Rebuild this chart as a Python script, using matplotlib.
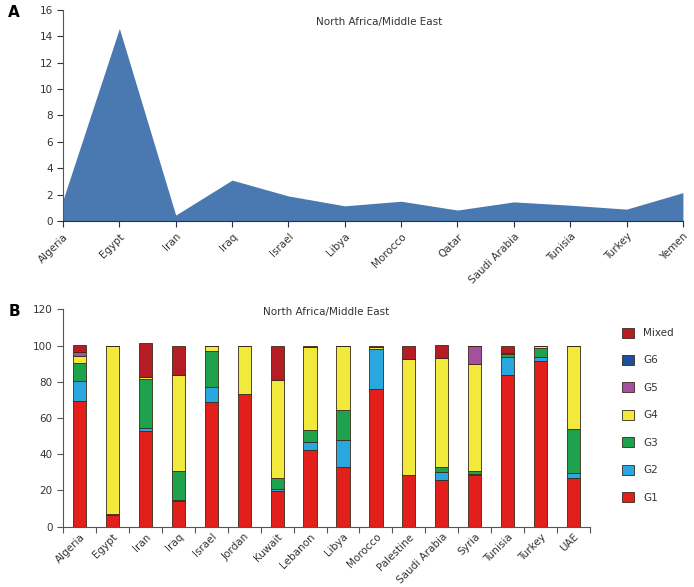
import numpy as np
import matplotlib.pyplot as plt

# Panel A data
countries_a = ["Algeria", "Egypt", "Iran", "Iraq", "Israel", "Libya", "Morocco",
               "Qatar", "Saudi Arabia", "Tunisia", "Turkey", "Yemen"]
values_a = [1.6, 14.6, 0.45, 3.1, 1.9, 1.15, 1.5, 0.83, 1.45, 1.2, 0.9, 2.15]

# Panel B data (percent by genotype)
countries_b = ["Algeria", "Egypt", "Iran", "Iraq", "Israel", "Jordan", "Kuwait",
               "Lebanon", "Libya", "Morocco", "Palestine", "Saudi Arabia",
               "Syria", "Tunisia", "Turkey", "UAE"]
g1 = [69.2, 6.2, 53.0, 14.4, 68.6, 73.2, 19.6, 42.4, 32.8, 76.2, 28.6, 25.8, 28.6, 84.0, 91.7, 26.8]
g2 = [11.0, 0.0, 1.4, 0.4, 8.5, 0.0, 1.0, 4.6, 14.8, 22.0, 0.0, 4.2, 0.5, 9.7, 2.0, 3.1]
g3 = [10.2, 1.0, 27.0, 16.2, 19.9, 0.0, 6.2, 6.3, 16.6, 0.0, 0.0, 3.2, 1.9, 1.5, 4.8, 24.0]
g4 = [4.1, 92.8, 1.5, 53.0, 3.0, 26.8, 54.2, 45.7, 35.8, 0.8, 64.0, 60.2, 58.9, 0.5, 1.5, 46.1]
g5 = [1.8, 0.0, 0.0, 0.0, 0.0, 0.0, 0.0, 0.0, 0.0, 0.0, 0.0, 0.0, 10.1, 0.0, 0.0, 0.0]
g6 = [0.0, 0.0, 0.0, 0.0, 0.0, 0.0, 0.0, 0.0, 0.0, 0.0, 0.0, 0.0, 0.0, 0.0, 0.0, 0.0]
mixed = [3.9, 0.0, 18.6, 16.0, 0.0, 0.0, 19.0, 1.0, 0.0, 1.0, 7.4, 7.0, 0.0, 4.3, 0.0, 0.0]

series = [("G1", g1, "#e31f1b"), ("G2", g2, "#2aa7df"), ("G3", g3, "#1ea24d"),
          ("G4", g4, "#f1e93c"), ("G5", g5, "#a44f9f"), ("G6", g6, "#1d4f9c"),
          ("Mixed", mixed, "#b51c24")]

plt.rcParams['font.family'] = ['DejaVu Sans']
fig = plt.figure(figsize=(6.94, 5.87), dpi=100)

txt = "#333333"

# ---- panel A ----
ax1 = fig.add_axes([0.0908, 0.6235, 0.8932, 0.3595])
x = np.arange(len(countries_a))
ax1.fill_between(x, 0, values_a, color="#4a78b0", linewidth=0)
ax1.set_xlim(0, len(countries_a) - 1)
ax1.set_ylim(0, 16)
ax1.set_yticks(range(0, 17, 2))
ax1.set_xticks(x)
ax1.set_xticklabels(countries_a, rotation=45, ha="right", rotation_mode="anchor")
ax1.tick_params(axis="both", labelsize=7.5, colors=txt, length=4, width=0.8)
ax1.tick_params(axis="x", color="#1f3350")
for s in ["top", "right"]:
    ax1.spines[s].set_visible(False)
ax1.spines["left"].set_color("#555555")
ax1.spines["bottom"].set_color("#1f3350")
ax1.text(0.51, 0.945, "North Africa/Middle East", transform=ax1.transAxes,
         ha="center", va="center", fontsize=7.5, color=txt)
fig.text(0.012, 0.978, "A", fontsize=11, fontweight="bold", va="center")

# ---- panel B ----
ax2 = fig.add_axes([0.0908, 0.1027, 0.7594, 0.3703])
xb = np.arange(len(countries_b))
bottom = np.zeros(len(countries_b))
handles = []
for name, vals, col in series:
    v = np.array(vals)
    b = ax2.bar(xb, v, 0.4, bottom=bottom, color=col, edgecolor="#3a2a1a",
                linewidth=0.6, label=name)
    handles.append(b)
    bottom += v
ax2.set_xlim(-0.5, len(countries_b) - 0.5)
ax2.set_ylim(0, 120)
ax2.set_yticks(range(0, 121, 20))
ax2.set_xticks(xb)
ax2.set_xticklabels(countries_b, rotation=45, ha="right", rotation_mode="anchor")
ax2.set_xticks(np.arange(-0.5, len(countries_b), 1), minor=True)
ax2.tick_params(axis="x", which="major", length=0, labelsize=7.5, colors=txt)
ax2.tick_params(axis="x", which="minor", length=4, width=0.8, color="#555555")
ax2.tick_params(axis="y", labelsize=7.5, colors=txt, length=4, width=0.8, color="#555555")
for s in ["top", "right"]:
    ax2.spines[s].set_visible(False)
ax2.spines["left"].set_color("#555555")
ax2.spines["bottom"].set_color("#555555")
ax2.text(0.5, 0.99, "North Africa/Middle East", transform=ax2.transAxes,
         ha="center", va="center", fontsize=7.5, color=txt)
fig.text(0.012, 0.47, "B", fontsize=11, fontweight="bold", va="center")

leg = fig.legend(handles[::-1], [s[0] for s in series][::-1], loc="upper left",
                 bbox_to_anchor=(0.883, 0.458), frameon=False, fontsize=7.5,
                 handlelength=1.1, handleheight=1.1, labelspacing=1.62,
                 handletextpad=0.9)
for t in leg.get_texts():
    t.set_color(txt)

fig.savefig("out.png", dpi=100)
